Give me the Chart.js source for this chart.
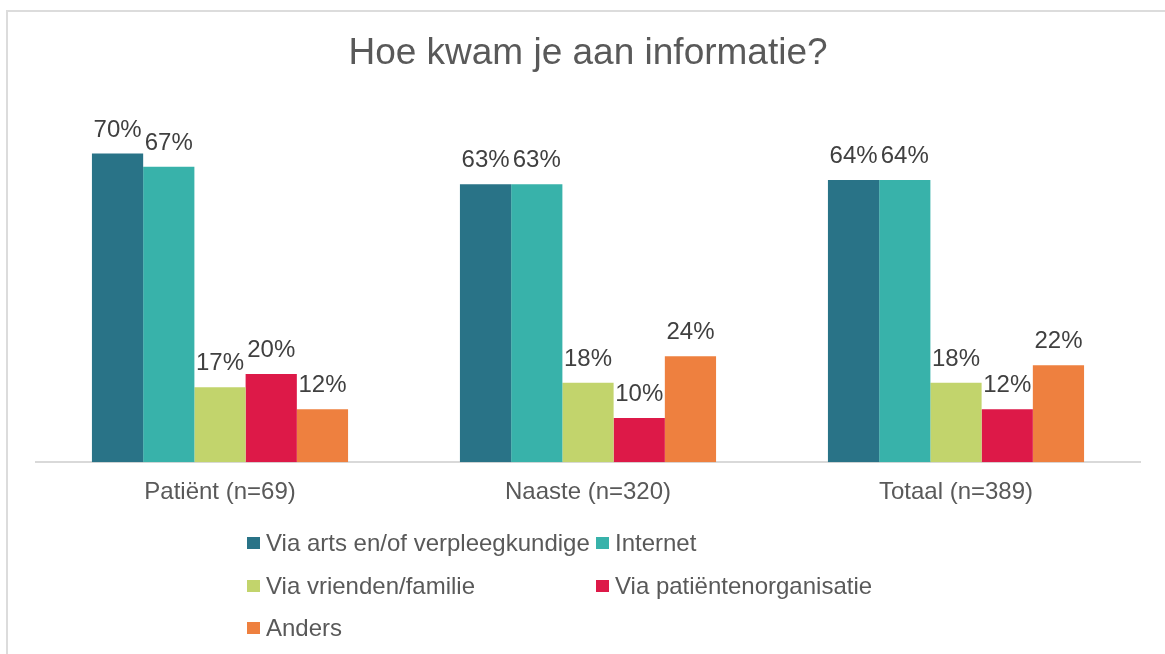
<!DOCTYPE html>
<html>
<head>
<meta charset="utf-8">
<script src="https://cdn.jsdelivr.net/npm/chart.js@4/dist/chart.umd.min.js"></script>
<style>
  html, body { margin: 0; padding: 0; background: #fff; }
  #wrap { position: relative; width: 1165px; height: 654px; }
  #bar-chart { display: block; }
  #frame { position: absolute; left: 6px; top: 10px; width: 1200px; height: 700px;
           border-left: 2px solid #dcdcdc; border-top: 2px solid #dcdcdc; pointer-events: none; }
</style>
</head>
<body>
<div id="wrap">
  <canvas id="bar-chart"></canvas>
  <div id="frame"></div>
</div>
<script>
var categories = ["Patiënt (n=69)", "Naaste (n=320)", "Totaal (n=389)"];
var seriesNames = [
    "Via arts en/of verpleegkundige",
    "Internet",
    "Via vrienden/familie",
    "Via patiëntenorganisatie",
    "Anders"
];
var viaArts = [70, 63, 64];
var internet = [67, 63, 64];
var vriendenFamilie = [17, 18, 18];
var patientenOrg = [20, 10, 12];
var anders = [12, 24, 22];
var colors = ["#297387", "#38b2aa", "#c2d46c", "#dd1948", "#ee803f"];

var fontFamily = "'Liberation Sans', Arial, sans-serif";

// labels above bars
var valueLabels = {
    id: 'valueLabels',
    afterDatasetsDraw: function (chart) {
        var ctx = chart.ctx;
        ctx.save();
        ctx.font = "24px " + fontFamily;
        ctx.fillStyle = "#404040";
        ctx.textAlign = "center";
        ctx.textBaseline = "alphabetic";
        chart.data.datasets.forEach(function (ds, i) {
            chart.getDatasetMeta(i).data.forEach(function (bar, j) {
                ctx.fillText(ds.data[j] + "%", bar.x, bar.y - 17);
            });
        });
        ctx.restore();
    }
};

// legend in two columns like the original
var gridLegend = {
    id: 'gridLegend',
    afterDraw: function (chart) {
        var ctx = chart.ctx;
        var cols = [247, 596];
        var rows = [543, 586, 628];
        var slots = [[0, 0], [1, 0], [0, 1], [1, 1], [0, 2]];
        ctx.save();
        ctx.font = "24px " + fontFamily;
        ctx.textBaseline = "middle";
        ctx.textAlign = "left";
        chart.data.datasets.forEach(function (ds, i) {
            var x = cols[slots[i][0]];
            var y = rows[slots[i][1]];
            ctx.fillStyle = ds.backgroundColor;
            ctx.fillRect(x, y - 6, 13, 12);
            ctx.fillStyle = "#595959";
            ctx.fillText(ds.label, x + 19, y + 1);
        });
        ctx.restore();
    }
};

new Chart(document.getElementById("bar-chart"), {
    type: 'bar',
    data: {
        labels: categories,
        datasets: [
            { label: seriesNames[0], data: viaArts, backgroundColor: colors[0] },
            { label: seriesNames[1], data: internet, backgroundColor: colors[1] },
            { label: seriesNames[2], data: vriendenFamilie, backgroundColor: colors[2] },
            { label: seriesNames[3], data: patientenOrg, backgroundColor: colors[3] },
            { label: seriesNames[4], data: anders, backgroundColor: colors[4] }
        ]
    },
    options: {
        responsive: true,
        maintainAspectRatio: false,
        animation: false,
        datasets: {
            bar: { categoryPercentage: 0.696, barPercentage: 1.0 }
        },
        layout: { padding: { left: 36, right: 25, top: 0, bottom: 131 } },
        plugins: {
            legend: { display: false },
            tooltip: { enabled: false },
            title: {
                display: true,
                text: 'Hoe kwam je aan informatie?',
                color: '#595959',
                font: { family: fontFamily, size: 37, weight: 'normal' },
                padding: { top: 32, bottom: 33 }
            }
        },
        scales: {
            x: {
                grid: { display: true, drawOnChartArea: false, drawTicks: false },
                border: { display: true, color: '#d9d9d9', width: 2 },
                ticks: {
                    color: '#595959',
                    padding: 16,
                    font: { family: fontFamily, size: 24 }
                }
            },
            y: {
                display: false,
                min: 0,
                max: 80
            }
        }
    },
    plugins: [valueLabels, gridLegend]
});
</script>
</body>
</html>
